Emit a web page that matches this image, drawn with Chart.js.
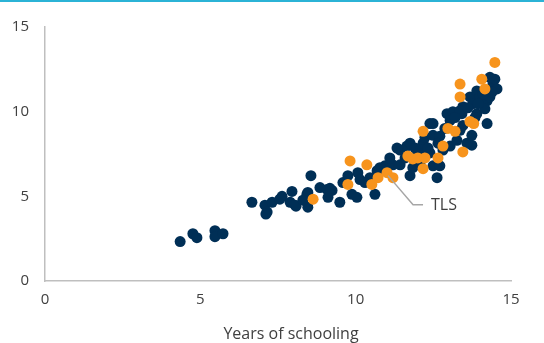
<!DOCTYPE html>
<html lang="en">
<head>
    <meta charset="UTF-8">
    <title>Years of schooling scatter</title>
    <script src="https://cdn.jsdelivr.net/npm/chart.js"></script>
    <style>
        body {
            margin: 0;
            background: #fff;
        }
        #wrap {
            width: 544px;
            height: 341px;
            border-top: 2px solid #2bb3d6;
        }
    </style>
</head>
<body>
<div id="wrap"><canvas id="chart" width="544" height="341"></canvas></div>
<script>
// x = years of schooling, y = value on vertical axis
const otherX = [4.35, 4.76, 4.89, 5.47, 5.47, 5.73,
    6.66, 7.08, 7.15, 7.31, 7.11, 7.63, 7.95, 7.89, 8.08, 7.56, 8.05, 8.46, 8.43, 8.46,
    8.56, 8.30, 9.08, 9.24, 9.11, 9.49, 9.59, 9.75, 10.07, 10.14, 9.88, 10.04, 10.62, 10.69,
    10.94, 11.20, 11.43, 11.43, 11.65, 11.75, 12.62, 11.84, 12.49, 12.71, 11.75, 12.17, 12.07,
    12.49, 12.49, 12.71, 12.94, 13.04, 13.13, 13.42, 13.45, 13.74, 13.74, 13.90, 14.23, 13.68,
    13.78, 13.90, 14.00, 14.23, 14.32, 14.42, 14.48, 14.55, 14.32, 13.45, 13.36, 13.04, 13.26,
    13.58, 12.81, 12.39, 12.07, 12.00, 11.04, 10.78, 11.33, 12.00, 13.36, 12.39, 9.17, 14.10,
    14.16, 13.94, 14.39, 13.84, 13.61, 13.20, 12.87, 12.65, 12.33, 11.91, 11.59, 12.23, 11.10,
    10.46, 10.30, 8.85];
const otherY = [2.33, 2.79, 2.56, 2.97, 2.62, 2.79,
    4.65, 4.48, 4.07, 4.65, 3.95, 5.00, 5.29, 4.65, 4.42, 4.83, 4.48, 5.23, 5.12, 4.36,
    6.22, 4.77, 5.41, 5.35, 4.94, 4.65, 5.81, 6.22, 6.40, 5.99, 5.12, 4.94, 5.12, 6.51,
    6.80, 6.86, 6.86, 7.73, 7.97, 6.22, 6.10, 6.69, 6.80, 6.80, 8.14, 8.14, 7.73,
    9.30, 8.60, 8.55, 9.88, 9.48, 10.00, 9.88, 9.19, 8.60, 8.02, 9.88, 9.30, 10.87,
    10.47, 11.22, 10.87, 10.64, 10.87, 11.63, 11.92, 11.34, 12.03, 10.29, 8.90, 7.97, 8.31,
    8.14, 7.73, 7.56, 6.98, 7.56, 6.80, 6.69, 7.85, 7.15, 10.06, 9.30, 5.47, 11.05,
    10.17, 10.47, 11.16, 9.65, 10.23, 9.65, 9.01, 8.14, 7.85, 7.85, 7.27, 8.49, 7.27,
    6.10, 5.81, 5.52];

const highlightX = [14.48, 13.36, 14.06, 14.16, 13.36, 13.68, 13.80, 12.97, 13.20, 12.17, 13.45,
    12.81, 11.68, 11.84, 12.00, 12.23, 12.65, 12.17, 11.01, 11.20, 10.72, 10.52, 10.36, 9.82,
    9.75, 8.63];
const highlightY = [12.91, 11.63, 11.92, 11.34, 10.87, 9.42, 9.30, 9.01, 8.84, 8.84, 7.62,
    7.97, 7.38, 7.21, 7.27, 7.27, 7.27, 6.63, 6.40, 6.10, 6.10, 5.70, 6.86, 7.09,
    5.70, 4.83];

const tlsLabel = "TLS";
const tlsPoint = { x: 11.01, y: 6.40 };

const xTicks = [0, 5, 10, 15];
const yTicks = [0, 5, 10, 15];
const xTitle = "Years of schooling";

const toPoints = (xs, ys) => xs.map((x, i) => ({ x: x, y: ys[i] }));

const FONT = "'Open Sans', sans-serif";
const TEXT = "#404040";

// leader line + label for TLS, placed from the data point through the scales
const tlsAnnotation = {
    id: "tlsAnnotation",
    afterDatasetsDraw(chart) {
        const ctx = chart.ctx;
        const px = chart.scales.x.getPixelForValue(tlsPoint.x);
        const py = chart.scales.y.getPixelForValue(tlsPoint.y);
        ctx.save();
        ctx.strokeStyle = "#a6a6a6";
        ctx.lineWidth = 1.5;
        ctx.beginPath();
        ctx.moveTo(px + 1, py + 3);
        ctx.lineTo(px + 26, py + 32);
        ctx.lineTo(px + 36, py + 32);
        ctx.stroke();
        ctx.fillStyle = TEXT;
        ctx.font = "16px " + FONT;
        ctx.textBaseline = "middle";
        ctx.fillText(tlsLabel, px + 44, py + 33);
        ctx.restore();
    }
};

// axis title, slightly right of centre as in the source chart
const axisTitle = {
    id: "axisTitle",
    afterDraw(chart) {
        const ctx = chart.ctx;
        const area = chart.chartArea;
        ctx.save();
        ctx.fillStyle = TEXT;
        ctx.font = "16px " + FONT;
        ctx.textAlign = "center";
        ctx.textBaseline = "middle";
        ctx.fillText(xTitle, (area.left + area.right) / 2 + 13, 332);
        ctx.restore();
    }
};

new Chart(document.getElementById("chart").getContext("2d"), {
    type: "scatter",
    data: {
        datasets: [
            {
                label: "Highlighted",
                data: toPoints(highlightX, highlightY),
                backgroundColor: "#f7941d",
                borderWidth: 0,
                pointRadius: 5.5,
                pointHoverRadius: 5.5
            },
            {
                label: "Other",
                data: toPoints(otherX, otherY),
                backgroundColor: "#002f56",
                borderWidth: 0,
                pointRadius: 5.5,
                pointHoverRadius: 5.5
            }
        ]
    },
    options: {
        responsive: false,
        animation: false,
        layout: { padding: { top: 20, right: 33, left: 0, bottom: 0 } },
        plugins: {
            legend: { display: false },
            tooltip: { enabled: false }
        },
        scales: {
            x: {
                type: "linear",
                min: 0,
                max: 15,
                afterBuildTicks: axis => { axis.ticks = xTicks.map(v => ({ value: v })); },
                afterFit: axis => { axis.height = 62; },
                grid: { display: false, drawTicks: false },
                border: { color: "#bfbfbf", width: 1.5 },
                ticks: { color: TEXT, font: { size: 15, family: FONT }, padding: 10 }
            },
            y: {
                type: "linear",
                min: 0,
                max: 15,
                afterBuildTicks: axis => { axis.ticks = yTicks.map(v => ({ value: v })); },
                afterFit: axis => { axis.width = 45; },
                grid: { display: false, drawTicks: false },
                border: { color: "#bfbfbf", width: 1.5 },
                ticks: { color: TEXT, font: { size: 15, family: FONT }, padding: 16 }
            }
        }
    },
    plugins: [tlsAnnotation, axisTitle]
});
</script>
</body>
</html>
